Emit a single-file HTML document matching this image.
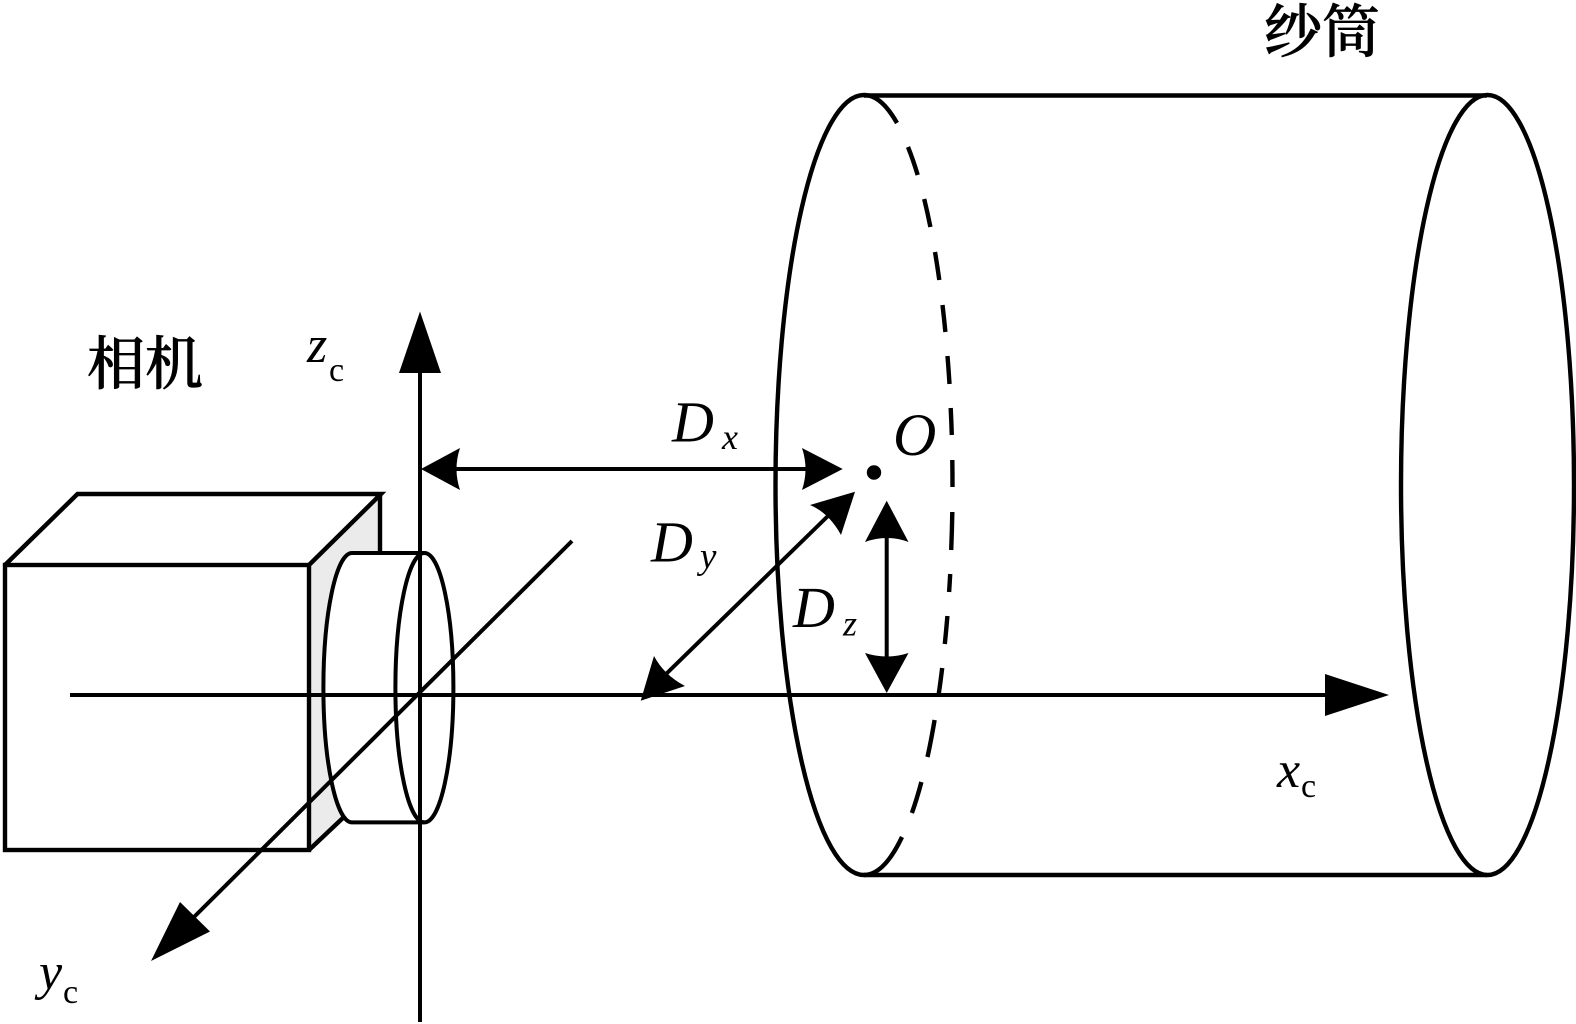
<!DOCTYPE html>
<html lang="zh">
<head>
<meta charset="utf-8">
<title>相机与纱筒坐标示意图</title>
<style>
html,body{margin:0;padding:0;background:#fff;}
svg{display:block;}
.it{font-family:"Liberation Serif",serif;font-style:italic;fill:#000;}
.rm{font-family:"Liberation Serif",serif;fill:#000;}
.cjk{font-family:"Liberation Serif","Noto Serif CJK SC",serif;fill:#000;stroke:#000;stroke-width:.7px;font-size:58px;font-weight:500;}
</style>
</head>
<body>
<svg width="1576" height="1024" viewBox="0 0 1576 1024" xmlns="http://www.w3.org/2000/svg">
<rect width="1576" height="1024" fill="#fff"/>

<!-- Camera body -->
<polygon points="309,565 380,494 380,553 345,816 309,850" fill="#ebebeb"/>
<g fill="none" stroke="#000" stroke-width="4.4">
  <rect x="5" y="565" width="304" height="285"/>
  <polyline points="5,565 77.5,494 381,494 309,565"/>
  <line x1="380" y1="494" x2="380" y2="553"/>
  <line x1="309" y1="850" x2="345" y2="816"/>
</g>

<!-- Lens -->
<path d="M352,553 L424.4,553 L424.4,822.4 L352,822.4 A28.6,134.7 0 0 1 352,553 Z" fill="#fff" stroke="none"/>
<g fill="none" stroke="#000" stroke-width="4">
  <path d="M424.4,553 L352,553 A28.6,134.7 0 0 0 352,822.4 L424.4,822.4"/>
  <ellipse cx="424.4" cy="687.7" rx="29" ry="134.7"/>
</g>

<!-- Cylinder -->
<g fill="none" stroke="#000" stroke-width="4.4">
  <line x1="864" y1="95.5" x2="1487" y2="95.5"/>
  <line x1="864" y1="875" x2="1487" y2="875"/>
  <path d="M864,95 A88.5,390 0 0 0 864,875"/>
  <ellipse cx="1487.5" cy="485" rx="86.5" ry="390"/>
  <path d="M864,95 A88.5,390 0 0 1 897,123"/>
  <path d="M908,147 A88.5,390 0 0 1 917.7,175"/>
  <path d="M924.2,199 A88.5,390 0 0 1 930.4,227"/>
  <path d="M935,252 A88.5,390 0 0 1 939.3,280"/>
  <path d="M942.5,305 A88.5,390 0 0 1 945.4,332"/>
  <path d="M947.5,356 A88.5,390 0 0 1 949.5,384"/>
  <path d="M950.7,408 A88.5,390 0 0 1 951.8,435"/>
  <path d="M952.3,460 A88.5,390 0 0 1 952.5,487"/>
  <path d="M952.3,512 A88.5,390 0 0 1 951.2,550"/>
  <path d="M950.2,574 A88.5,390 0 0 1 949.1,592"/>
  <path d="M947.4,616 A88.5,390 0 0 1 944.8,644"/>
  <path d="M942.2,668 A88.5,390 0 0 1 938.6,695"/>
  <path d="M934.6,720 A88.5,390 0 0 1 927.5,757"/>
  <path d="M921.4,782 A88.5,390 0 0 1 911.9,813"/>
  <path d="M902,837 A88.5,390 0 0 1 864,875"/>
</g>

<!-- Axes -->
<g stroke="#000" stroke-width="4" fill="none">
  <line x1="420" y1="1022" x2="420" y2="370"/>
  <line x1="70" y1="695" x2="1330" y2="695"/>
  <line x1="572" y1="541" x2="194" y2="917"/>
</g>
<g fill="#000" stroke="none">
  <polygon points="420,311.5 399,373 441,373"/>
  <polygon points="1389,695 1325,674 1325,716"/>
  <polygon points="151,961 180,902 210,931.5"/>
</g>

<!-- Dx -->
<line x1="450" y1="469" x2="812" y2="469" stroke="#000" stroke-width="4"/>
<path d="M421,469 L460,448 Q453,469 460,490 Z" fill="#000"/>
<path d="M842.7,469 L802,448 Q809,469 802,490 Z" fill="#000"/>

<!-- Dy -->
<line x1="830" y1="514" x2="664" y2="676" stroke="#000" stroke-width="4"/>
<path d="M855,491.7 L810,505 Q829,513 841,535 Z" fill="#000"/>
<path d="M640.7,700.7 L654,656 Q664,675 685,686 Z" fill="#000"/>

<!-- Dz -->
<line x1="886.7" y1="535" x2="886.7" y2="660" stroke="#000" stroke-width="4"/>
<path d="M886.7,500.7 L865,542 Q886.7,534 908.5,542 Z" fill="#000"/>
<path d="M886.7,693 L865,653 Q886.7,660 908.5,653 Z" fill="#000"/>

<!-- Origin -->
<circle cx="874" cy="472.5" r="7.2" fill="#000"/>

<!-- CJK labels -->
<text class="cjk" x="87" y="384">相机</text>
<text class="cjk" x="1264" y="52">纱筒</text>

<!-- Axis labels -->
<text class="it" x="307" y="362" font-size="52">z</text>
<text class="rm" x="329" y="381" font-size="34">c</text>
<text class="it" x="1277" y="787" font-size="52">x</text>
<text class="rm" x="1301" y="797" font-size="34">c</text>
<text class="it" x="39" y="989" font-size="52">y</text>
<text class="rm" x="63" y="1003" font-size="34">c</text>

<!-- Distance labels -->
<text class="it" x="672" y="441.5" font-size="58">D</text>
<text class="it" x="722" y="449" font-size="36">x</text>
<text class="it" x="651" y="561.5" font-size="58">D</text>
<text class="it" x="700" y="568" font-size="37">y</text>
<text class="it" x="793" y="627" font-size="58">D</text>
<text class="it" x="843" y="635.5" font-size="36">z</text>
<text class="it" x="893" y="455" font-size="60">O</text>
</svg>
</body>
</html>
